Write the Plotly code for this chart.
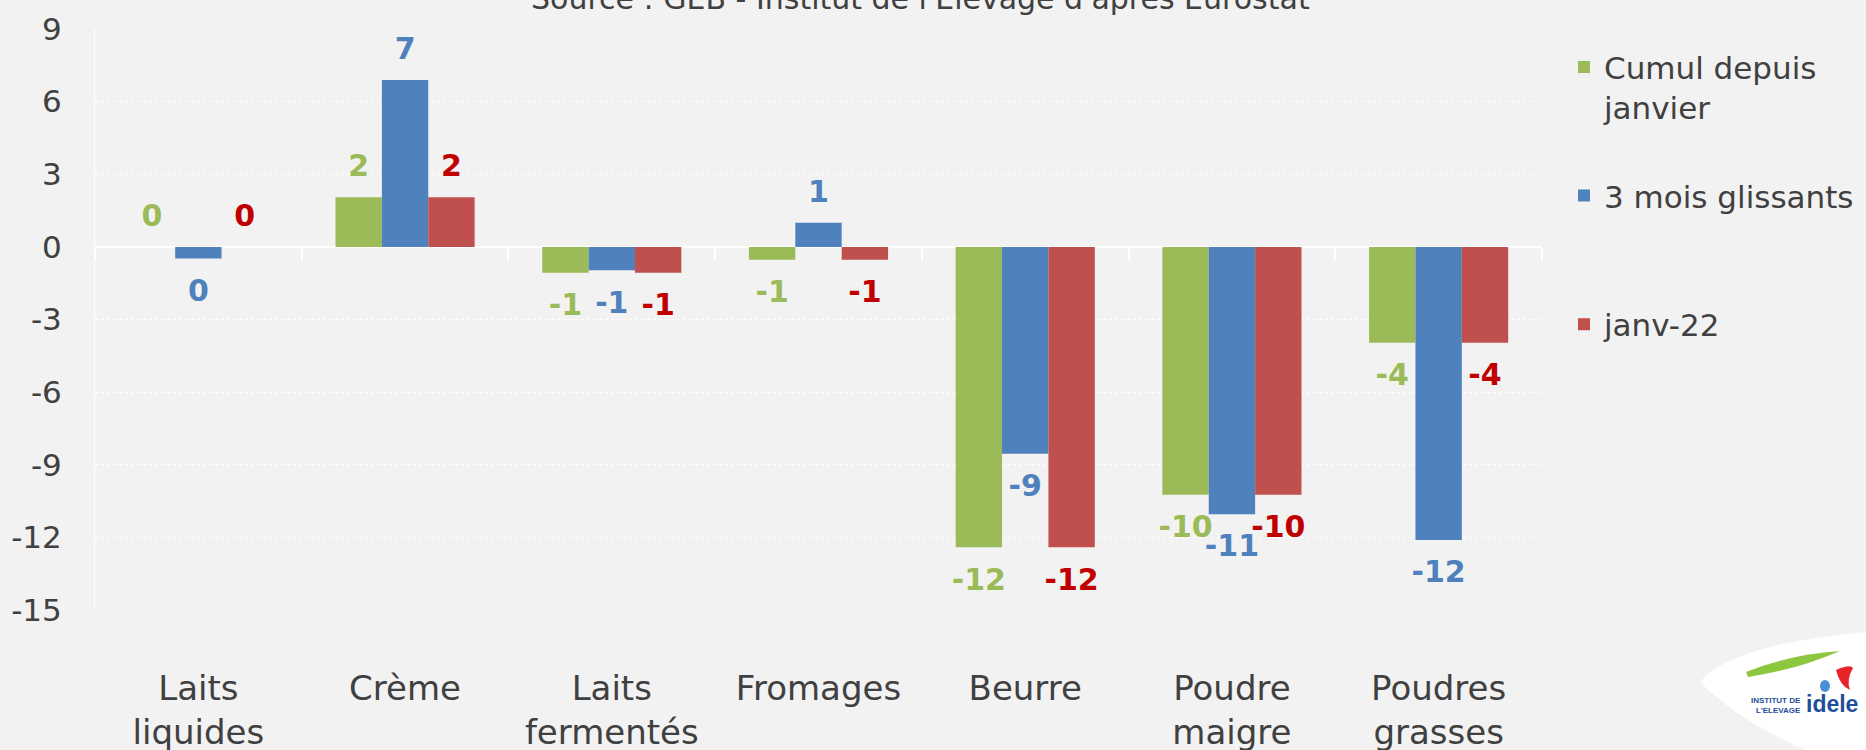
import plotly.graph_objects as go

# ---------------- data ----------------
categories = ["Laits<br>liquides", "Crème", "Laits<br>fermentés", "Fromages",
              "Beurre", "Poudre<br>maigre", "Poudres<br>grasses"]
series_names = ["Cumul depuis<br>janvier", "3 mois glissants<br> ", "janv-22"]
cumul = [0.0, 2.05, -1.07, -0.53, -12.41, -10.24, -3.96]
glissants = [-0.48, 6.89, -0.97, 1.0, -8.55, -11.04, -12.11]
janv22 = [0.0, 2.05, -1.07, -0.53, -12.41, -10.24, -3.96]
y_ticks = [-15, -12, -9, -6, -3, 0, 3, 6, 9]
y_ticktext = ["-15", "-12", "-9", "-6", "-3", "0", "3", "6", "9"]
source_text = "Source : GEB - Institut de l'Elevage d'après Eurostat"

series_values = [cumul, glissants, janv22]
bar_colors = ["#9BBB59", "#4F81BD", "#C0504D"]
label_colors = ["#9BBB59", "#4F81BD", "#C00000"]

W, H = 1866, 750
L, R, T, B = 95, 1542, 28.7, 610.0
FONT = "DejaVu Sans"
GREY = "#404040"


def px(x):
    return (x - L) / (R - L)


def py(y):
    return (B - y) / (B - T)


fig = go.Figure()

for name, vals, col in zip(series_names, series_values, bar_colors):
    fig.add_trace(go.Bar(
        x=categories, y=vals, name=name, marker_color=col,
        marker_line_width=0, legendgroup=name, hoverinfo="skip",
    ))

for name, vals, col in zip(series_names, series_values, label_colors):
    fig.add_trace(go.Scatter(
        x=categories, y=vals, mode="markers+text",
        text=[str(round(v)) for v in vals],
        textposition=["top center" if v >= 0 else "bottom center" for v in vals],
        textfont=dict(family=FONT, size=30, color=col, weight="bold"),
        marker=dict(size=[20 if v >= 0 else 30 for v in vals], opacity=0),
        showlegend=False, hoverinfo="skip", cliponaxis=False,
    ))

# invisible trace carrying the axis drawn along the zero line
fig.add_trace(go.Scatter(
    x=categories, y=[0] * len(categories), xaxis="x2", mode="lines",
    line=dict(width=0), opacity=0, showlegend=False, hoverinfo="skip",
))

fig.update_layout(
    width=W, height=H,
    margin=dict(l=L, r=W - R, t=T, b=H - B, autoexpand=False),
    paper_bgcolor="#F2F2F2", plot_bgcolor="#F2F2F2",
    barmode="group", bargap=0.327, bargroupgap=0,
    scattermode="group", scattergap=0.327,
    font=dict(family=FONT, color=GREY),
    hovermode=False,
    xaxis=dict(
        type="category", range=[-0.5, 6.5], showgrid=False, zeroline=False,
        showline=False, ticks="", ticklabelstandoff=55,
        tickfont=dict(family=FONT, size=34, color=GREY),
    ),
    xaxis2=dict(
        type="category", range=[-0.5, 6.5], overlaying="x", anchor="free",
        position=15 / 24, side="bottom", showgrid=False, zeroline=False,
        showline=False, showticklabels=False, ticks="outside",
        tickson="boundaries", ticklen=12, tickwidth=1.5, tickcolor="white",
    ),
    yaxis=dict(
        range=[-15, 9], tickvals=y_ticks, ticktext=y_ticktext,
        showgrid=True, gridcolor="white",
        griddash="dot", gridwidth=1, zeroline=True, zerolinecolor="white",
        zerolinewidth=1.5, showline=True, linecolor="white", linewidth=1,
        ticks="", ticklabelstandoff=26,
        tickfont=dict(family=FONT, size=31, color=GREY),
    ),
    legend=dict(
        x=px(1564), y=py(40), xanchor="left", yanchor="top",
        font=dict(family=FONT, size=31, color=GREY),
        bgcolor="rgba(0,0,0,0)", tracegroupgap=45, valign="top",
    ),
    annotations=[
        dict(text=source_text, x=px(920), y=py(-2), xref="paper", yref="paper",
             xanchor="center", yanchor="middle", showarrow=False,
             font=dict(family=FONT, size=30, color=GREY)),
        dict(text="INSTITUT DE<br>L'ELEVAGE", x=px(1803), y=py(706),
             xref="paper", yref="paper", xanchor="right", yanchor="middle",
             align="right", showarrow=False,
             font=dict(family="Liberation Sans", size=8, color="#1F4E9A",
                       weight="bold")),
        dict(text="idele", x=px(1804), y=py(704), xref="paper", yref="paper",
             xanchor="left", yanchor="middle", showarrow=False,
             font=dict(family="Liberation Sans", size=23, color="#1F4E9A",
                       weight="bold")),
    ],
)


def path(points_cmds):
    out = []
    for cmd, pts in points_cmds:
        coords = " ".join(f"{px(x):.5f},{py(y):.5f}" for x, y in pts)
        out.append(f"{cmd}{coords}")
    return " ".join(out) + " Z"


shapes = [
    dict(type="path", xref="paper", yref="paper", fillcolor="white",
         line=dict(width=0), layer="above",
         path=path([("M", [(1700, 682)]), ("Q", [(1730, 645), (1866, 632)]),
                    ("L", [(1866, 750)]), ("L", [(1806, 750)]),
                    ("Q", [(1740, 722), (1700, 682)])])),
    dict(type="path", xref="paper", yref="paper", fillcolor="#8DC63F",
         line=dict(width=0), layer="above",
         path=path([("M", [(1746, 672)]), ("Q", [(1792, 654), (1840, 651)]),
                    ("Q", [(1796, 670), (1748, 677)])])),
    dict(type="path", xref="paper", yref="paper", fillcolor="#E8242B",
         line=dict(width=0), layer="above",
         path=path([("M", [(1836, 670)]), ("Q", [(1850, 664), (1853, 668)]),
                    ("Q", [(1846, 680), (1850, 690)]),
                    ("Q", [(1840, 686), (1836, 670)])])),
    dict(type="circle", xref="paper", yref="paper", fillcolor="#4A8FD6",
         line=dict(width=0), layer="above",
         x0=px(1820), x1=px(1830), y0=py(692), y1=py(680)),
]
fig.update_layout(shapes=shapes)

fig.write_html(
    "out.html",
    config={"displayModeBar": False},
    post_script="document.body.style.margin='0px';"
                "document.body.style.overflow='hidden';",
)
